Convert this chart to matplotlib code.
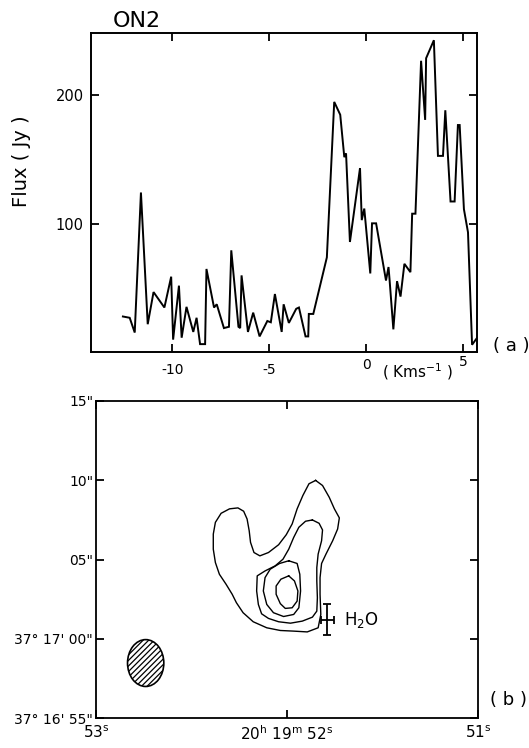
import matplotlib
matplotlib.use("Agg")
import matplotlib.pyplot as plt
from matplotlib.patches import Ellipse
from matplotlib.transforms import blended_transform_factory, offset_copy

plt.rcParams['font.family'] = ['DejaVu Sans']
plt.rcParams['hatch.linewidth'] = 0.9

# ---------------- (a) maser spectrum ----------------
velocity = [-12.54, -12.19, -11.93, -11.61, -11.26, -10.96, -10.40, -10.05, -9.95, -9.65,
            -9.51, -9.26, -8.91, -8.74, -8.56, -8.30, -8.23, -7.84, -7.70, -7.33,
            -7.07, -6.95, -6.58, -6.49, -6.42, -6.09, -5.82, -5.49, -5.09, -4.91,
            -4.70, -4.35, -4.25, -3.98, -3.60, -3.46, -3.12, -2.98, -2.95, -2.72,
            -2.02, -1.64, -1.33, -1.12, -1.03, -0.83, -0.31, -0.22, -0.09, 0.22,
            0.31, 0.52, 1.03, 1.16, 1.21, 1.41, 1.60, 1.78, 1.98, 2.29,
            2.38, 2.55, 2.84, 3.05, 3.10, 3.50, 3.71, 3.97, 4.09, 4.36,
            4.57, 4.74, 4.83, 5.05, 5.26, 5.47, 5.78]
flux = [28, 27, 15.5, 124.5, 22, 47, 35, 59, 10, 52,
        11.5, 35.5, 16, 27, 6.5, 6.5, 65, 35, 37.5, 19,
        20, 79.5, 20, 19, 60, 16, 31, 12.5, 24.5, 23.5,
        45.5, 16, 37.5, 23, 34, 35, 12.5, 12.5, 30, 30,
        74, 195, 185, 152, 155, 86, 143.5, 103, 112, 61.5,
        100.5, 100.5, 56, 66.5, 57.5, 18, 55.5, 43.5, 69, 62.5,
        108, 108, 227, 181, 229, 243, 153, 153, 188.5, 117.5,
        117.5, 177, 177, 111.5, 93.5, 6, 12.5]
vel_ticks = [-10, -5, 0, 5]
vel_tick_labels = ['-10', '-5', '0', '5']
flux_ticks = [100, 200]
flux_tick_labels = ['100', '200']

# ---------------- (b) continuum map ----------------
contour1_ra = [51.850, 51.814, 51.779, 51.752, 51.726, 51.735, 51.761, 51.796, 51.819, 51.827,
               51.827, 51.823, 51.837, 51.894, 51.965, 52.035, 52.106, 52.177, 52.230, 52.265,
               52.287, 52.319, 52.354, 52.375, 52.386, 52.386, 52.375, 52.345, 52.301, 52.257,
               52.227, 52.209, 52.198, 52.191, 52.173, 52.142, 52.097, 52.044, 52.004, 51.973,
               51.947, 51.917, 51.885]
contour1_dec = [9.98, 9.66, 8.92, 8.19, 7.62, 6.92, 6.18, 5.34, 4.75, 3.86,
                2.81, 1.54, 0.70, 0.44, 0.49, 0.53, 0.70, 1.08, 1.65, 2.28,
                2.81, 3.44, 4.07, 4.81, 5.65, 6.60, 7.34, 7.91, 8.19, 8.25,
                8.04, 7.55, 6.81, 6.08, 5.44, 5.23, 5.44, 5.93, 6.56, 7.24,
                8.19, 9.03, 9.77]
contour2_ra = [51.867, 51.832, 51.814, 51.819, 51.837, 51.844, 51.844, 51.841, 51.844, 51.867,
               51.920, 51.982, 52.044, 52.097, 52.133, 52.150, 52.159, 52.156, 52.115, 52.062,
               52.021, 51.991, 51.965, 51.938, 51.903]
contour2_dec = [7.49, 7.28, 6.86, 6.18, 5.34, 4.49, 3.65, 2.59, 1.75, 1.37,
                1.12, 0.99, 1.08, 1.29, 1.58, 2.17, 3.02, 3.97, 4.28, 4.60,
                5.02, 5.65, 6.39, 7.03, 7.41]
contour3_ra = [51.991, 51.947, 51.933, 51.929, 51.938, 51.965, 52.018, 52.071, 52.106, 52.124,
               52.115, 52.088, 52.039]
contour3_dec = [4.92, 4.75, 4.07, 3.02, 1.96, 1.54, 1.41, 1.65, 2.17, 3.02,
                3.86, 4.39, 4.75]
contour4_ra = [51.991, 51.961, 51.943, 51.947, 51.973, 52.009, 52.035, 52.057, 52.057, 52.032]
contour4_dec = [3.97, 3.65, 3.02, 2.38, 1.96, 1.92, 2.22, 2.81, 3.33, 3.76]

beam_ra, beam_dec = 52.740, -1.52
beam_width_s, beam_height_arcsec = 0.19, 2.95

h2o_ra, h2o_dec = 51.788, 1.22
h2o_err_ra, h2o_err_dec = 0.035, 0.95

ra_ticks = [53, 52, 51]
ra_tick_labels = [r'53$^{\mathrm{s}}$',
                  r'20$^{\mathrm{h}}$ 19$^{\mathrm{m}}$ 52$^{\mathrm{s}}$',
                  r'51$^{\mathrm{s}}$']
dec_ticks = [-5, 0, 5, 10, 15]
dec_tick_labels = ['37\u00b0 16\' 55"', '37\u00b0 17\' 00"', '05"', '10"', '15"']

fig = plt.figure(figsize=(5.29, 7.48), dpi=100)

# ----- spectrum panel -----
ax1 = fig.add_axes([0.1715, 0.5298, 0.7293, 0.4257])
ax1.plot(velocity, flux, color='black', lw=1.4, solid_joinstyle='miter')
ax1.set_xlim(-14.2, 5.7)
ax1.set_ylim(0.6, 248.4)
ax1.set_xticks(vel_ticks)
ax1.set_xticklabels([])
ax1.set_yticks(flux_ticks)
ax1.set_yticklabels(flux_tick_labels, fontsize=10.5)
ax1.tick_params(direction='in', length=6, width=1.3, top=True, right=True, pad=5)
for s in ax1.spines.values():
    s.set_linewidth(1.4)

# tick labels under the velocity axis, the positive ones sitting higher
label_drop = {'-10': 11, '-5': 11, '0': 6, '5': 3}
blend = blended_transform_factory(ax1.transData, ax1.transAxes)
for v, lab in zip(vel_ticks, vel_tick_labels):
    tr = offset_copy(blend, fig=fig, x=0, y=-label_drop[lab], units='dots')
    ax1.text(v, 0, lab, transform=tr, ha='center', va='top', fontsize=10)

fig.text(0.722, 0.5027, r'( Kms$^{-1}$ )', fontsize=11, ha='left', va='center')
fig.text(0.932, 0.537, '( a )', fontsize=13, ha='left', va='center')
fig.text(0.2136, 0.9643, 'ON2', fontsize=16, ha='left', va='baseline')
fig.text(0.040, 0.784, 'Flux ( Jy )', fontsize=14, rotation=90, ha='center', va='center')

# ----- map panel -----
ax2 = fig.add_axes([0.1815, 0.0397, 0.7221, 0.4246])
for ra, dec in [(contour1_ra, contour1_dec), (contour2_ra, contour2_dec),
                (contour3_ra, contour3_dec), (contour4_ra, contour4_dec)]:
    ax2.plot(list(ra) + [ra[0]], list(dec) + [dec[0]], color='black', lw=1.0)

beam = Ellipse((beam_ra, beam_dec), beam_width_s, beam_height_arcsec,
               facecolor='white', edgecolor='black', lw=1.2, hatch='//////')
ax2.add_patch(beam)

ax2.errorbar([h2o_ra], [h2o_dec], xerr=[h2o_err_ra], yerr=[h2o_err_dec],
             fmt='none', ecolor='black', elinewidth=1.3, capsize=3, capthick=1.3)
ax2.text(51.70, h2o_dec - 0.05, r'H$_2$O', fontsize=12, ha='left', va='center')

ax2.set_xlim(53, 51)
ax2.set_ylim(-5, 15)
ax2.set_xticks(ra_ticks)
ax2.set_xticklabels(ra_tick_labels, fontsize=11)
ax2.set_yticks(dec_ticks)
ax2.set_yticklabels(dec_tick_labels, fontsize=10)
ax2.tick_params(direction='in', length=6, width=1.3, top=True, right=True)
ax2.tick_params(axis='x', pad=4.5)
ax2.tick_params(axis='y', pad=2)
for s in ax2.spines.values():
    s.set_linewidth(1.3)

fig.text(0.926, 0.064, '( b )', fontsize=13, ha='left', va='center')

fig.savefig('out.png', dpi=100)
